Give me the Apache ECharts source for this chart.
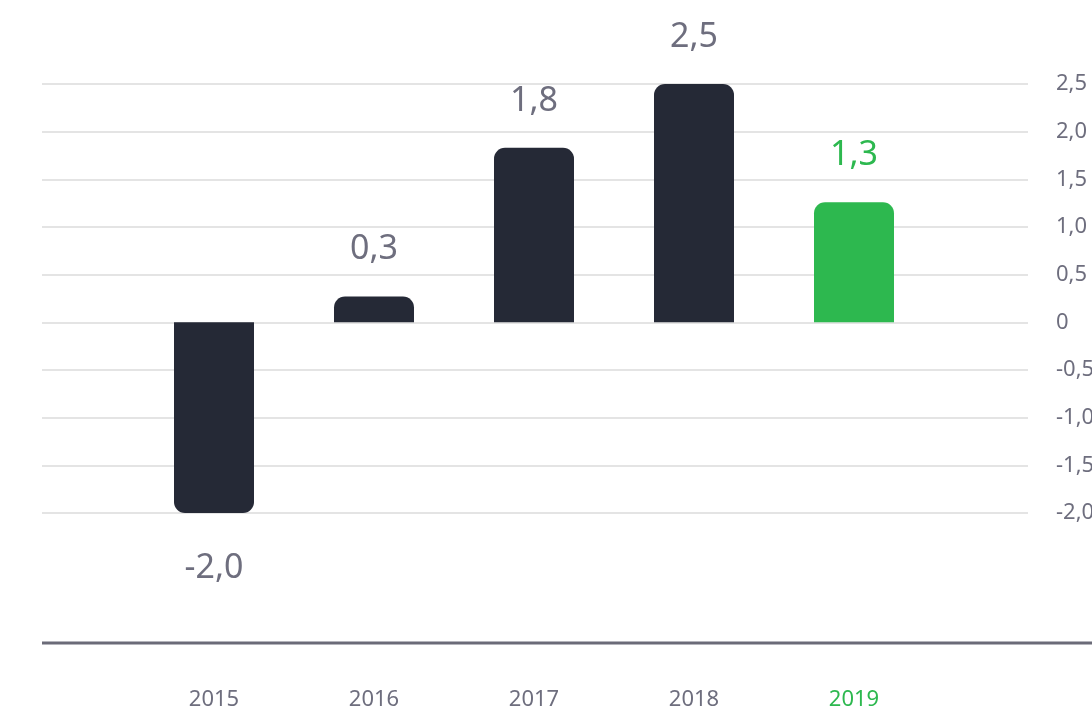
<!DOCTYPE html>
<html>
<head>
<meta charset="utf-8">
<script src="https://cdn.jsdelivr.net/npm/echarts@6/dist/echarts.min.js"></script>
<style>
  html, body { margin: 0; padding: 0; background: #fff; }
  #main { width: 1092px; height: 711px; }
</style>
</head>
<body>
<div id="main"></div>
<script>
var years = ['2015', '2016', '2017', '2018', '2019'];
var values = [-2.0, 0.27, 1.83, 2.5, 1.26];

var dark = '#252936';
var green = '#2db84f';
var gray = '#6e6e7e';

function fmt(v) {
    if (v === 0) return '0';
    return v.toFixed(1).replace('.', ',');
}

var myChart = echarts.init(document.getElementById('main'));

var barData = values.map(function (v, i) {
    var last = i === years.length - 1;
    return {
        value: [i, v],
        itemStyle: {
            color: last ? green : dark,
            borderRadius: v < 0 ? [0, 0, 11, 11] : [11, 11, 0, 0]
        },
        label: {
            position: v < 0 ? 'bottom' : 'top',
            distance: v < 0 ? 38 : 30,
            color: last ? green : gray
        }
    };
});

let option = {
    backgroundColor: '#fff',
    textStyle: { fontFamily: 'Noto Sans' },
    grid: {
        left: 42, right: 64, top: 84, bottom: 198,
        containLabel: false,
        outerBoundsMode: 'none'
    },
    xAxis: {
        type: 'value',
        min: -1.075,
        max: 5.0875,
        offset: 130,
        splitLine: { show: false },
        axisLine: { show: false },
        axisTick: { show: false },
        axisLabel: {
            customValues: [0, 1, 2, 3, 4],
            margin: 46,
            fontSize: 22,
            color: gray,
            formatter: function (v) {
                var i = Math.round(v);
                return i === years.length - 1 ? '{g|' + years[i] + '}' : years[i];
            },
            rich: { g: { color: green, fontSize: 22 } }
        }
    },
    yAxis: {
        type: 'value',
        position: 'right',
        min: -2,
        max: 2.5,
        interval: 0.5,
        axisLine: { show: false },
        axisTick: { show: false },
        splitLine: { lineStyle: { color: '#e4e4e4', width: 2 } },
        axisLabel: {
            margin: 28,
            fontSize: 22,
            color: gray,
            formatter: fmt
        }
    },
    series: [
        {
            type: 'bar',
            barWidth: 80,
            data: barData,
            label: {
                show: true,
                fontSize: 34,
                formatter: function (p) { return fmt(p.value[1]); }
            }
        }
    ],
    graphic: [
        {
            type: 'line',
            shape: { x1: 42, y1: 643, x2: 1092, y2: 643 },
            style: { stroke: '#6b6b78', lineWidth: 3 }
        }
    ]
};

myChart.setOption(option);
</script>
</body>
</html>
